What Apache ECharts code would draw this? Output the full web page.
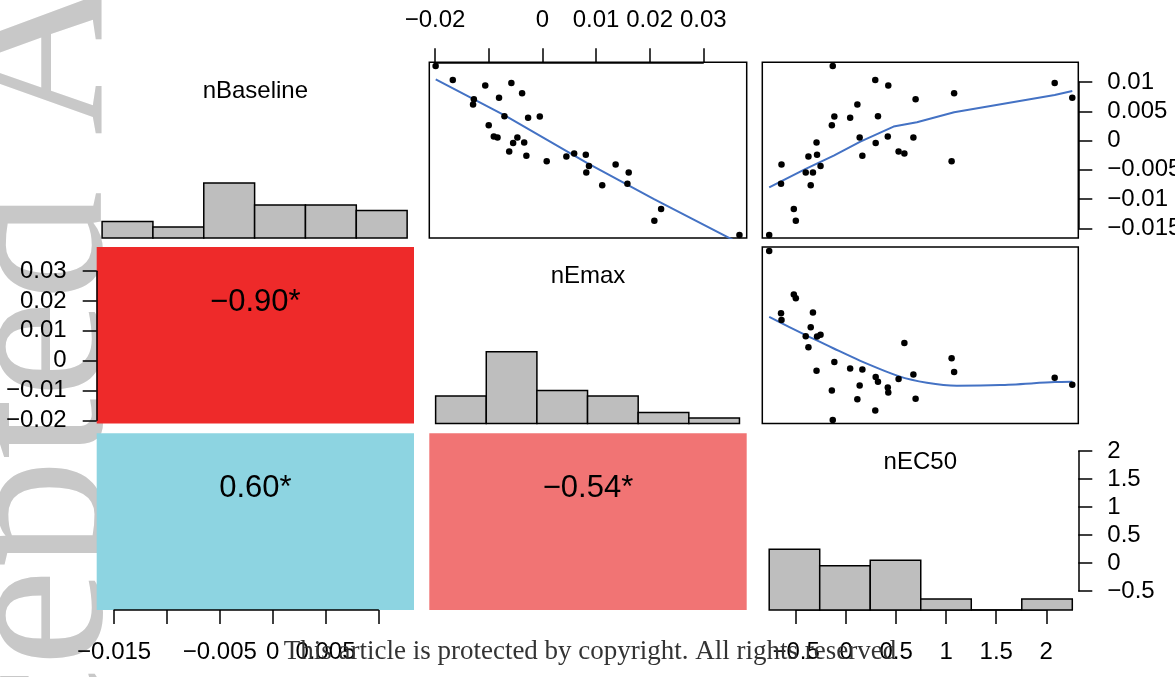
<!DOCTYPE html>
<html>
<head>
<meta charset="utf-8">
<script src="https://cdn.jsdelivr.net/npm/echarts@6/dist/echarts.min.js"></script>
<style>
  html, body { margin: 0; padding: 0; background: #ffffff; }
  #chart { width: 1175px; height: 677px; }
</style>
</head>
<body>
<div id="chart"></div>
<script>
// ---- observations (one entry per subject) ----
const varNames = ['nBaseline', 'nEmax', 'nEC50'];
const nBaseline = [0.01273, 0.01035, 0.00941, 0.00983, 0.00705, 0.00617, 0.00733, 0.00807,
  0.00415, 0.00392, 0.00412, 0.00261, 0.00071, 0.00054, 0.00054, -0.00040,
  -0.00031, -0.00185, -0.00261, -0.00355, -0.00273, -0.00222, -0.00244, -0.00435,
  -0.00546, -0.00409, -0.00546, -0.00736, -0.00762, -0.01171, -0.01370, -0.01614];
const nEmax = [-0.01990, -0.01670, -0.01065, -0.00578, -0.01277, -0.01292, -0.00808, -0.00378,
  -0.00707, -0.00266, -0.00048, -0.01000, -0.00905, -0.00836, -0.00466, -0.00545,
  -0.00339, -0.00618, -0.00298, 0.00081, 0.00448, 0.00593, 0.00810, 0.00869,
  0.00819, 0.01366, 0.01610, 0.01586, 0.01116, 0.02214, 0.02088, 0.03675];
const nEC50 = [-0.134, 0.291, 0.421, 2.084, 0.694, 0.112, 2.260, 1.079,
  0.318, 0.040, -0.118, -0.143, 0.416, 0.135, 0.672, 0.295,
  -0.296, 0.524, 0.162, 1.054, -0.377, 0.582, -0.291, -0.256,
  -0.404, -0.646, -0.332, -0.651, -0.354, -0.523, -0.503, -0.769];

// ---- correlations shown in the lower panels ----
// order: (nBaseline, nEmax), (nBaseline, nEC50), (nEmax, nEC50)
const corrValues = [-0.90, 0.60, -0.54];
const corrStars = ['*', '*', '*'];

// ---- smoother curves in the upper panels ----
const smoothEmaxOnBaseX = [-0.01988, -0.00694, 0.00830, 0.02073, 0.03690];
const smoothEmaxOnBaseY = [0.01046, 0.00426, -0.00381, -0.00995, -0.01762];
const smoothEc50OnBaseX = [-0.769, -0.404, -0.124, 0.142, 0.474, 0.707, 1.079, 2.084, 2.260];
const smoothEc50OnBaseY = [-0.00801, -0.00483, -0.00256, -0.00017, 0.00239, 0.00313, 0.00483, 0.00779, 0.00847];
const smoothEc50OnEmaxX = [-0.769, -0.404, -0.124, 0.142, 0.524, 0.807, 1.106, 1.539, 2.084, 2.260];
const smoothEc50OnEmaxY = [0.01465, 0.00852, 0.00407, -0.00006, -0.00518, -0.00741, -0.00841, -0.00819, -0.00719, -0.00708];

// ---- axis ticks and their labels ----
const baselineTicks = [-0.015, -0.01, -0.005, 0, 0.005, 0.01];
const baselineBottomLabels = ['\u22120.015', '', '\u22120.005', '0', '0.005', ''];
const baselineRightLabels = ['\u22120.015', '\u22120.01', '\u22120.005', '0', '0.005', '0.01'];
const emaxTicks = [-0.02, -0.01, 0, 0.01, 0.02, 0.03];
const emaxTopLabels = ['\u22120.02', '', '0', '0.01', '0.02', '0.03'];
const emaxLeftLabels = ['\u22120.02', '\u22120.01', '0', '0.01', '0.02', '0.03'];
const ec50Ticks = [-0.5, 0, 0.5, 1, 1.5, 2];
const ec50Labels = ['\u22120.5', '0', '0.5', '1', '1.5', '2'];

// ---- layout (pixels) and plotting ranges ----
const RANGES = [[-0.01665, 0.01338], [-0.02108, 0.0381], [-0.838, 2.320]];
const COLS = [[96.7, 317.3], [429.3, 317.4], [762.3, 316.0]];   // [left, width]
const ROWS = [[62.3, 175.7], [247.0, 176.5], [433.3, 176.7]];   // [top, height]
const CORR_COLORS = { '1,0': '#EE2A2A', '2,0': '#8DD4E1', '2,1': '#F17474' };
const FONT = 'Liberation Sans';
const TICK_FONT = 24;
const NAME_FONT = 24;

const vars = [nBaseline, nEmax, nEC50];

function xPx(col, v) {
  const r = RANGES[col];
  return COLS[col][0] + (v - r[0]) / (r[1] - r[0]) * COLS[col][1];
}
function yPx(row, v) {
  const r = RANGES[row];
  return ROWS[row][0] + (r[1] - v) / (r[1] - r[0]) * ROWS[row][1];
}

function histogram(values) {
  const lo = Math.min(...values), hi = Math.max(...values), w = (hi - lo) / 6;
  const counts = [0, 0, 0, 0, 0, 0];
  values.forEach(v => {
    let k = Math.ceil((v - lo) / w - 1e-9) - 1;
    k = Math.max(0, Math.min(5, k));
    counts[k]++;
  });
  return counts.map((c, i) => [lo + i * w, lo + (i + 1) * w, c]);
}

function labelFor(ticks, labels) {
  return v => {
    let best = 0;
    ticks.forEach((t, i) => { if (Math.abs(t - v) < Math.abs(ticks[best] - v)) best = i; });
    return labels[best];
  };
}

const grids = [], xAxes = [], yAxes = [], series = [], graphics = [];

function hiddenAxis(gridIndex, range) {
  return { type: 'value', gridIndex, min: range[0], max: range[1], show: false };
}

// ---- the 3x3 panels ----
for (let r = 0; r < 3; r++) {
  for (let c = 0; c < 3; c++) {
    const gi = grids.length;
    const g = {
      left: COLS[c][0], top: ROWS[r][0], width: COLS[c][1], height: ROWS[r][1],
      containLabel: false, outerBoundsMode: 'none', show: false
    };
    if (r < c) {
      Object.assign(g, { show: true, borderColor: '#000', borderWidth: 1.5, backgroundColor: 'transparent' });
      xAxes.push(hiddenAxis(gi, RANGES[c]));
      yAxes.push(hiddenAxis(gi, RANGES[r]));
      const xs = vars[c], ys = vars[r];
      series.push({
        type: 'scatter', xAxisIndex: gi, yAxisIndex: gi, silent: true, z: 3,
        symbolSize: 6.5, itemStyle: { color: '#000', opacity: 1 },
        data: xs.map((x, i) => [x, ys[i]])
      });
      let lx, ly;
      if (r === 0 && c === 1) { lx = smoothEmaxOnBaseX; ly = smoothEmaxOnBaseY; }
      else if (r === 0 && c === 2) { lx = smoothEc50OnBaseX; ly = smoothEc50OnBaseY; }
      else { lx = smoothEc50OnEmaxX; ly = smoothEc50OnEmaxY; }
      series.push({
        type: 'line', xAxisIndex: gi, yAxisIndex: gi, silent: true, z: 2,
        showSymbol: false, clip: true, smooth: (r === 1 ? 0.25 : false),
        lineStyle: { color: '#4472C4', width: 2 },
        data: lx.map((x, i) => [x, ly[i]])
      });
    } else if (r === c) {
      const values = vars[c];
      xAxes.push(hiddenAxis(gi, RANGES[c]));
      yAxes.push(hiddenAxis(gi, [0, values.length]));
      series.push({
        type: 'custom', xAxisIndex: gi, yAxisIndex: gi, silent: true, z: 2,
        data: histogram(values),
        encode: { x: [0, 1], y: 2 },
        renderItem: (params, api) => {
          const p0 = api.coord([api.value(0), 0]);
          const p1 = api.coord([api.value(1), api.value(2)]);
          return {
            type: 'rect',
            shape: { x: p0[0], y: p1[1], width: p1[0] - p0[0], height: p0[1] - p1[1] },
            style: { fill: '#BEBEBE', stroke: '#000', lineWidth: 1.5 }
          };
        }
      });
      graphics.push({
        type: 'text', z: 50,
        x: COLS[c][0] + COLS[c][1] / 2, y: ROWS[r][0] + 29,
        style: { text: varNames[c], fontFamily: FONT, fontSize: NAME_FONT, fill: '#000', align: 'center', verticalAlign: 'middle' }
      });
    } else {
      const k = (r === 1 ? 0 : (c === 0 ? 1 : 2));
      Object.assign(g, { show: true, borderWidth: 0, backgroundColor: CORR_COLORS[r + ',' + c] });
      xAxes.push(hiddenAxis(gi, [0, 1]));
      yAxes.push(hiddenAxis(gi, [0, 1]));
      const v = corrValues[k];
      graphics.push({
        type: 'text', z: 50,
        x: COLS[c][0] + COLS[c][1] / 2, y: ROWS[r][0] + 55.5,
        style: {
          text: (v < 0 ? '\u2212' : '') + Math.abs(v).toFixed(2) + corrStars[k],
          fontFamily: FONT, fontSize: 31, fill: '#000', align: 'center', verticalAlign: 'middle'
        }
      });
    }
    grids.push(g);
  }
}

// ---- outer axes: each spans only its own tick range ----
function edgeAxis(gridIndex, position, ticks, labels, margin) {
  return {
    type: 'value', gridIndex, position,
    min: ticks[0], max: ticks[ticks.length - 1], interval: ticks[1] - ticks[0],
    axisLine: { show: true, onZero: false, lineStyle: { color: '#000', width: 1.5 } },
    axisTick: { show: true, inside: false, length: 14, lineStyle: { color: '#000', width: 1.5 } },
    axisLabel: {
      show: true, margin, fontFamily: FONT, fontSize: TICK_FONT, color: '#000',
      hideOverlap: false, showMinLabel: true, showMaxLabel: true,
      formatter: labelFor(ticks, labels)
    },
    splitLine: { show: false }
  };
}

function addHorizontalEdge(col, row, position, ticks, labels, margin) {
  const gi = grids.length;
  const left = xPx(col, ticks[0]);
  grids.push({
    left, width: xPx(col, ticks[ticks.length - 1]) - left,
    top: ROWS[row][0], height: ROWS[row][1], containLabel: false, outerBoundsMode: 'none', show: false
  });
  xAxes.push(edgeAxis(gi, position, ticks, labels, margin));
  yAxes.push({ type: 'value', gridIndex: gi, show: false, min: 0, max: 1 });
}

function addVerticalEdge(col, row, position, ticks, labels, margin) {
  const gi = grids.length;
  const top = yPx(row, ticks[ticks.length - 1]);
  grids.push({
    left: COLS[col][0], width: COLS[col][1],
    top, height: yPx(row, ticks[0]) - top, containLabel: false, outerBoundsMode: 'none', show: false
  });
  xAxes.push({ type: 'value', gridIndex: gi, show: false, min: 0, max: 1 });
  yAxes.push(edgeAxis(gi, position, ticks, labels, margin));
}

addHorizontalEdge(1, 0, 'top', emaxTicks, emaxTopLabels, 30);
addVerticalEdge(2, 0, 'right', baselineTicks, baselineRightLabels, 29);
addVerticalEdge(0, 1, 'left', emaxTicks, emaxLeftLabels, 30);
addHorizontalEdge(0, 2, 'bottom', baselineTicks, baselineBottomLabels, 30);
addHorizontalEdge(2, 2, 'bottom', ec50Ticks, ec50Labels, 30);
addVerticalEdge(2, 2, 'right', ec50Ticks, ec50Labels, 29);

// ---- page marks ----
graphics.push({
  type: 'text', z: -5, silent: true,
  x: 43, y: 1021, rotation: Math.PI / 2,
  style: { text: 'Accepted Article', fontFamily: 'Liberation Serif', fontSize: 220, fill: '#C8C8C8', align: 'left', verticalAlign: 'middle' }
});
graphics.push({
  type: 'text', z: 100, silent: true,
  x: 590, y: 652,
  style: { text: 'This article is protected by copyright. All rights reserved', fontFamily: 'Liberation Serif', fontSize: 27, fill: '#333333', align: 'center', verticalAlign: 'middle' }
});

const chart = echarts.init(document.getElementById('chart'), null, { renderer: 'canvas' });
chart.setOption({
  animation: false,
  backgroundColor: '#ffffff',
  textStyle: { fontFamily: FONT },
  grid: grids,
  xAxis: xAxes,
  yAxis: yAxes,
  series,
  graphic: { elements: graphics }
});
</script>
</body>
</html>
